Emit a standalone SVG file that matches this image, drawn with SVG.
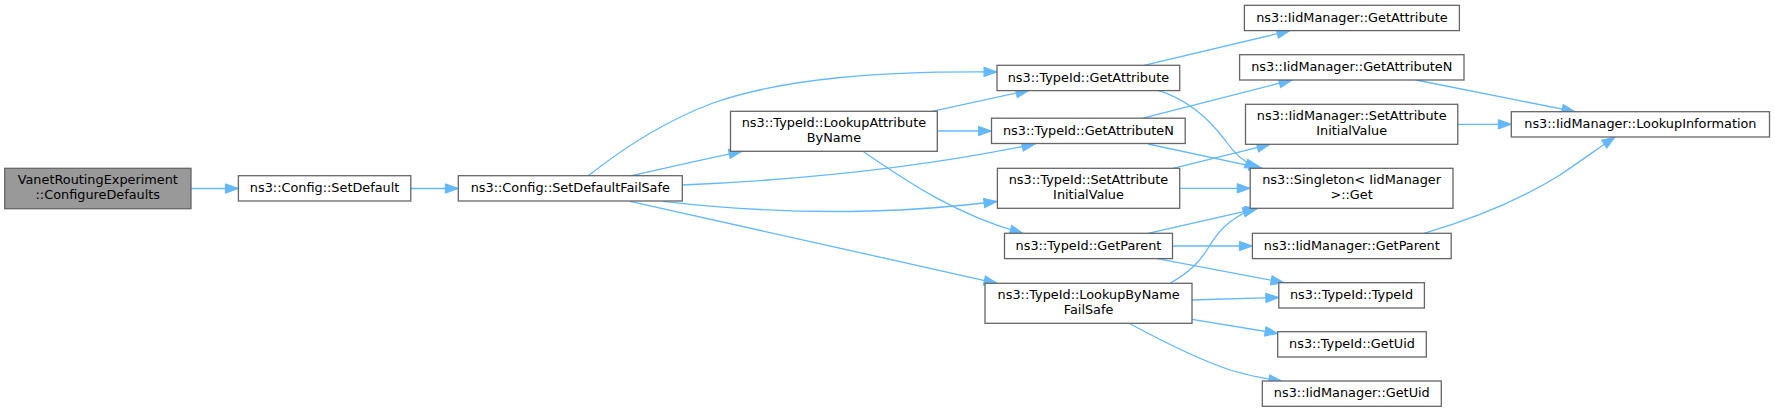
<svg xmlns="http://www.w3.org/2000/svg" width="1775" height="412" viewBox="0 0 1775 412">
<style>
.n rect{fill:#ffffff;stroke:#666666;stroke-width:1.3}
.n.root rect{fill:#999999}
.n text{font-family:"DejaVu Sans","Liberation Sans",sans-serif;font-size:12.85px;fill:#000000;text-anchor:middle}
.e path{fill:none;stroke:#63b8ff;stroke-width:1.3;marker-end:url(#ah)}
</style>
<defs>
<marker id="ah" markerUnits="userSpaceOnUse" markerWidth="14" markerHeight="10" refX="13" refY="4.7" orient="auto" overflow="visible">
<path d="M0,0 L13,4.7 L0,9.4 z" fill="#63b8ff" stroke="#63b8ff" stroke-width="1"/>
</marker>
</defs>
<rect width="1775" height="412" fill="#ffffff"/>
<g id="connectors" class="e">
<path d="M191,188.5 L238.4,188.5"/>
<path d="M410.8,188.5 L458.3,188.5"/>
<path d="M588,176 C622,149 665,121 713,103 C785,78 880,71 997,72"/>
<path d="M630,176 C665,168 700,160 742,151.3"/>
<path d="M682,185 C800,180 920,168 1035,144"/>
<path d="M663,201.3 C730,209 800,213 870,211 C920,210 960,206 997,201.5"/>
<path d="M630,201.3 L997,283.3"/>
<path d="M932,111.3 L1029,90.3"/>
<path d="M937.3,131 L991.5,131"/>
<path d="M863,151.3 C905,180 955,215 1023,233.3"/>
<path d="M1144,65.3 L1290,30.7"/>
<path d="M1158,90.3 C1190,100 1210,120 1225,140 C1235,155 1245,163 1258,168.3"/>
<path d="M1143,118.2 L1292,80"/>
<path d="M1148,144 L1262,168.3"/>
<path d="M1173,168.3 L1270,144.3"/>
<path d="M1179.7,188.3 L1250.2,188.3"/>
<path d="M1148,233.3 L1258,208.3"/>
<path d="M1170,283.3 C1190,272 1200,262 1210,245 C1220,228 1235,215 1256,208.3"/>
<path d="M1172.6,246 L1252.4,246"/>
<path d="M1157,258.7 L1284,282.7"/>
<path d="M1192,300 L1278.8,297.5"/>
<path d="M1192,319.3 L1278,333.5"/>
<path d="M1129,323.3 C1160,340 1200,360 1230,370 C1250,376 1265,379 1282,381"/>
<path d="M1416,80 L1575,111.7"/>
<path d="M1457.8,124.3 L1511.3,124.3"/>
<path d="M1424,233.3 C1470,220 1520,200 1560,175 C1585,158 1600,147 1615,137"/>
</g>
<g id="node1" class="n root"><rect x="4.7" y="168.3" width="186.3" height="40.4"/><text x="97.8" y="184.2">VanetRoutingExperiment</text><text x="97.8" y="199.2">::ConfigureDefaults</text></g>
<g id="node2" class="n"><rect x="238.4" y="175.7" width="172.4" height="25.3"/><text x="324.6" y="192.1">ns3::Config::SetDefault</text></g>
<g id="node3" class="n"><rect x="458.3" y="175.7" width="224" height="25.3"/><text x="570.3" y="192.1">ns3::Config::SetDefaultFailSafe</text></g>
<g id="node4" class="n"><rect x="730.5" y="111.3" width="206.8" height="40"/><text x="833.9" y="127">ns3::TypeId::LookupAttribute</text><text x="833.9" y="142">ByName</text></g>
<g id="node5" class="n"><rect x="997" y="65.3" width="182.7" height="25.3"/><text x="1088.4" y="81.7">ns3::TypeId::GetAttribute</text></g>
<g id="node6" class="n"><rect x="991.5" y="118.2" width="193.7" height="25.3"/><text x="1088.4" y="134.6">ns3::TypeId::GetAttributeN</text></g>
<g id="node7" class="n"><rect x="997.4" y="168.3" width="182.3" height="40"/><text x="1088.5" y="184">ns3::TypeId::SetAttribute</text><text x="1088.5" y="199">InitialValue</text></g>
<g id="node8" class="n"><rect x="1004.5" y="233.3" width="168" height="25.3"/><text x="1088.5" y="249.7">ns3::TypeId::GetParent</text></g>
<g id="node9" class="n"><rect x="985" y="283.3" width="207" height="40"/><text x="1088.6" y="299">ns3::TypeId::LookupByName</text><text x="1088.6" y="314">FailSafe</text></g>
<g id="node10" class="n"><rect x="1244.4" y="5.3" width="215" height="25.3"/><text x="1351.9" y="21.7">ns3::IidManager::GetAttribute</text></g>
<g id="node11" class="n"><rect x="1239.6" y="54.7" width="224.4" height="25.3"/><text x="1351.8" y="71.1">ns3::IidManager::GetAttributeN</text></g>
<g id="node12" class="n"><rect x="1245.5" y="104.3" width="212.3" height="40"/><text x="1351.7" y="120">ns3::IidManager::SetAttribute</text><text x="1351.7" y="135">InitialValue</text></g>
<g id="node13" class="n"><rect x="1250.2" y="168.3" width="202.8" height="40"/><text x="1351.6" y="184">ns3::Singleton&lt; IidManager</text><text x="1351.6" y="199">&gt;::Get</text></g>
<g id="node14" class="n"><rect x="1252.4" y="233.3" width="198.8" height="25.3"/><text x="1351.8" y="249.7">ns3::IidManager::GetParent</text></g>
<g id="node15" class="n"><rect x="1278.8" y="282.7" width="145.6" height="25.3"/><text x="1351.6" y="299.1">ns3::TypeId::TypeId</text></g>
<g id="node16" class="n"><rect x="1277.7" y="331.7" width="148.6" height="25.3"/><text x="1352" y="348.1">ns3::TypeId::GetUid</text></g>
<g id="node17" class="n"><rect x="1262.3" y="381" width="179" height="25.3"/><text x="1351.8" y="397.4">ns3::IidManager::GetUid</text></g>
<g id="node18" class="n"><rect x="1511.3" y="111.7" width="258.2" height="25.3"/><text x="1640.4" y="128.1">ns3::IidManager::LookupInformation</text></g>
</svg>
